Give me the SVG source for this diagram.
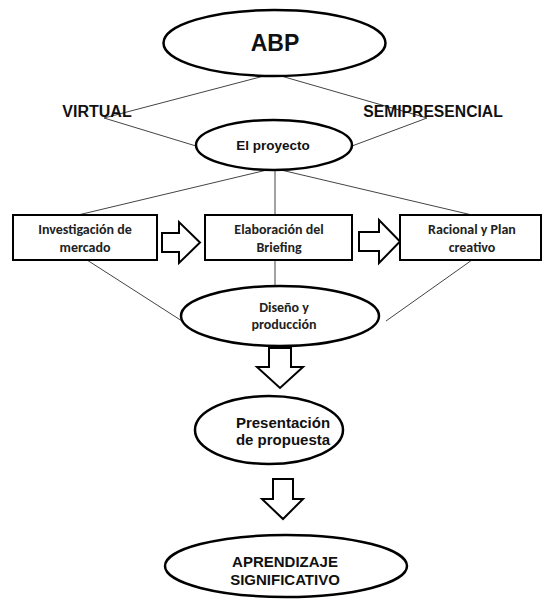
<svg xmlns="http://www.w3.org/2000/svg" width="544" height="603" viewBox="0 0 544 603">
<style>
.ell{fill:#fff;stroke:#000;stroke-width:2.5}
.box{fill:#fff;stroke:#000;stroke-width:2}
.ln{fill:none;stroke:#444;stroke-width:1}
.blk{fill:#fff;stroke:#000;stroke-width:2;stroke-linejoin:miter}
.a{font-family:"Liberation Sans",Arial,sans-serif;font-weight:bold;fill:#111;text-anchor:middle}
.c{font-family:Carlito,Lato,sans-serif;font-weight:bold;fill:#222;text-anchor:middle;font-size:14px}
</style>
<rect width="544" height="603" fill="#fff"/>
<g id="connectors">
<polyline class="ln" points="264,76 104,118 196,146"/>
<polyline class="ln" points="281,76 427,118 352,146"/>
<line class="ln" x1="275" y1="170" x2="275" y2="215"/>
<line class="ln" x1="267" y1="170" x2="78" y2="215"/>
<line class="ln" x1="281" y1="170" x2="472" y2="215"/>
<line class="ln" x1="87" y1="260" x2="182" y2="321"/>
<line class="ln" x1="472" y1="260" x2="386" y2="321"/>
<line class="ln" x1="275" y1="260" x2="275" y2="287"/>
<polygon class="blk" points="162,233 179,233 179,222 200,242.5 179,263 179,252 162,252"/>
<polygon class="blk" points="359,232 379,232 379,220 400,241.5 379,263 379,251 359,251"/>
<polygon class="blk" points="269,348 291,348 291,367 303,367 280,388 257,367 269,367"/>
<polygon class="blk" points="273,479 293,479 293,499 303,499 283,519 262,499 273,499"/>
</g>
<g id="abp">
<ellipse class="ell" cx="274.5" cy="43" rx="111" ry="33"/>
<text class="a" x="275" y="51" font-size="23">ABP</text>
</g>
<g id="virtual"><text class="a" x="97" y="117" font-size="16">VIRTUAL</text></g>
<g id="semipresencial"><text class="a" x="433" y="117" font-size="15.7">SEMIPRESENCIAL</text></g>
<g id="proyecto">
<ellipse class="ell" cx="274" cy="145" rx="78" ry="25"/>
<text class="a" x="273" y="150" font-size="13.5">El proyecto</text>
</g>
<g id="investigacion">
<rect class="box" x="13" y="215" width="144" height="45"/>
<text class="c" x="85" y="234">Investigación de</text>
<text class="c" x="85" y="252">mercado</text>
</g>
<g id="elaboracion">
<rect class="box" x="205" y="215" width="147" height="45"/>
<text class="c" x="279" y="234">Elaboración del</text>
<text class="c" x="279" y="252">Briefing</text>
</g>
<g id="racional">
<rect class="box" x="400" y="215" width="141" height="45"/>
<text class="c" x="472" y="234">Racional y Plan</text>
<text class="c" x="472" y="252">creativo</text>
</g>
<g id="diseno">
<ellipse class="ell" cx="280" cy="316" rx="99" ry="30"/>
<text class="c" x="284" y="312" font-size="15">Diseño y</text>
<text class="c" x="284" y="329" font-size="15">producción</text>
</g>
<g id="presentacion">
<ellipse class="ell" cx="269" cy="430" rx="74" ry="34"/>
<text class="a" x="283" y="428" font-size="15">Presentación</text>
<text class="a" x="283" y="445" font-size="15">de propuesta</text>
</g>
<g id="aprendizaje">
<ellipse class="ell" cx="286" cy="566" rx="121" ry="31"/>
<text class="a" x="285" y="567" font-size="15">APRENDIZAJE</text>
<text class="a" x="285" y="585" font-size="15">SIGNIFICATIVO</text>
</g>
</svg>
